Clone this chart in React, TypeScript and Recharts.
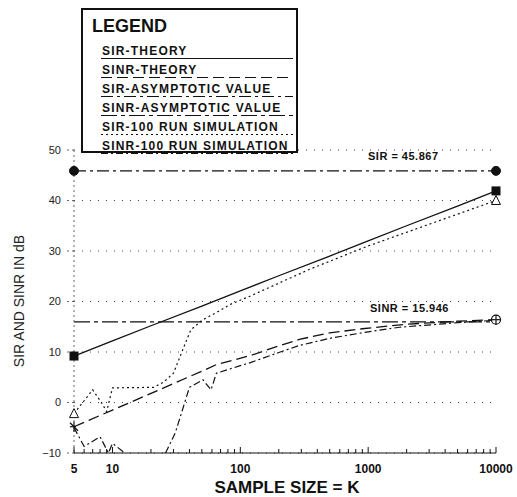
import { CartesianGrid, Line, LineChart, ReferenceDot, ReferenceLine, XAxis, YAxis } from "recharts"

const FONT = "'Liberation Sans', Arial, sans-serif"
const INK = "#111"

// sample sizes and dB values
const sirTheoryK = [5, 10, 20, 50, 100, 200, 500, 1000, 2000, 5000, 10000]
const sirTheoryDb = [9.2, 12.2, 15.2, 19.1, 22.1, 25.1, 29.0, 32.0, 35.0, 38.9, 41.9]

const sinrTheoryK = [5, 10, 20, 50, 65, 120, 200, 290, 500, 900, 2000, 5000, 10000]
const sinrTheoryDb = [-4.8, -1.5, 1.8, 6.2, 7.5, 9.3, 11.2, 12.5, 13.8, 14.6, 15.5, 16.1, 16.4]

const sirSimK = [5, 7, 8.2, 9, 10, 21, 25, 30, 35, 41, 51, 65, 83, 120, 350, 1000, 10000]
const sirSimDb = [-2.2, 2.5, 0, -1.8, 2.9, 3.0, 4.0, 5.8, 10.1, 14.4, 16.4, 17.8, 19.4, 21.1, 26.4, 31.0, 40.0]

const sinrSimK = [5, 6, 8, 9.3, 10, 12.5, 18, 26, 31, 40, 51, 59, 65, 100, 120, 200, 290, 500, 1000, 1760, 5000, 10000]
const sinrSimDb = [-5, -8.7, -6.8, -10, -8.1, -10, null, -10, -6, 3, 4.5, 2.5, 5.8, 7.3, 7.9, 9.9, 11.3, 12.7, 14.0, 14.9, 15.8, 16.3]

const SIR_ASYM = 45.867
const SINR_ASYM = 15.946
const K_MIN = 5
const K_MAX = 10000

const xTicks = [
  5, 6, 7, 8, 9, 10, 20, 30, 40, 50, 60, 70, 80, 90, 100, 200, 300, 400, 500, 600, 700, 800, 900, 1000,
  2000, 3000, 4000, 5000, 6000, 7000, 8000, 9000, 10000,
]
const xLabels = [5, 10, 100, 1000, 10000]
const yTicks = [-10, 0, 10, 20, 30, 40, 50]

const legendNames = [
  "SIR-THEORY",
  "SINR-THEORY",
  "SIR-ASYMPTOTIC VALUE",
  "SINR-ASYMPTOTIC VALUE",
  "SIR-100 RUN SIMULATION",
  "SINR-100 RUN SIMULATION",
]

const DASH = {
  sirTheory: undefined,
  sinrTheory: "11 5",
  sirAsym: "12 4 3 4",
  sinrAsym: "16 4 4 4",
  sirSim: "2 3",
  sinrSim: "7 3 2 3",
}
const legendDash = [DASH.sirTheory, DASH.sinrTheory, DASH.sirAsym, DASH.sinrAsym, DASH.sirSim, DASH.sinrSim]

const zip = (ks: number[], vs: (number | null)[]) => ks.map((k, i) => ({ k, v: vs[i] }))

const endMarker = (kind: string, count: number) => (p: any) => {
  const { cx, cy, index } = p
  const key = `${kind}-${index}`
  if ((index !== 0 && index !== count - 1) || cx == null || cy == null) return <g key={key} />
  if (kind === "square") return <rect key={key} x={cx - 4.5} y={cy - 4.5} width={9} height={9} fill={INK} />
  if (kind === "triangle")
    return (
      <path key={key} d={`M${cx},${cy - 5} L${cx + 4.5},${cy + 4} L${cx - 4.5},${cy + 4} Z`} fill="#fff" stroke={INK} strokeWidth={1} />
    )
  if (kind === "star" && index === 0)
    return (
      <g key={key} stroke={INK} strokeWidth={1.2}>
        <line x1={cx - 4} y1={cy - 4} x2={cx + 4} y2={cy + 4} />
        <line x1={cx} y1={cy - 5} x2={cx} y2={cy + 5} />
        <line x1={cx - 4} y1={cy} x2={cx + 2} y2={cy} />
      </g>
    )
  if (kind === "star")
    return (
      <g key={key} stroke={INK} strokeWidth={1.2}>
        <circle cx={cx} cy={cy} r={4.5} fill="#fff" />
        <line x1={cx - 5} y1={cy} x2={cx + 5} y2={cy} />
        <line x1={cx} y1={cy - 5} x2={cx} y2={cy + 5} />
      </g>
    )
  return <g key={key} />
}

function XTick({ x, y, payload }: any) {
  const major = xLabels.includes(payload.value)
  return (
    <g>
      <line x1={x} x2={x} y1={y} y2={y - (major ? 6 : 4)} stroke={INK} />
      {major && (
        <text x={x} y={y + 20} textAnchor="middle" fontSize={12} fontWeight="bold" fill={INK} fontFamily={FONT}>
          {payload.value}
        </text>
      )}
    </g>
  )
}

export default function App() {
  return (
    <div style={{ position: "absolute", left: 0, top: 0, width: 517, height: 497, background: "#fff", fontFamily: FONT }}>
      <LineChart width={517} height={497} margin={{ top: 150, right: 21, bottom: 14, left: 0 }}>
        <CartesianGrid vertical={false} stroke="#444" strokeDasharray="1 7" />
        <XAxis
          dataKey="k"
          type="number"
          scale="log"
          domain={[K_MIN, K_MAX]}
          ticks={xTicks}
          interval={0}
          height={30}
          tickSize={0}
          tickMargin={0}
          tickLine={false}
          tick={<XTick />}
          stroke={INK}
        />
        <YAxis
          type="number"
          domain={[-10, 50]}
          ticks={yTicks}
          width={74}
          tickSize={7}
          tickMargin={6}
          stroke="#666"
          strokeDasharray="2 3"
          tick={{ fontSize: 11, fill: "#222", fontFamily: FONT }}
          tickFormatter={(v) => (v < 0 ? `\u2212${-v}` : `${v}`)}
        />
        <ReferenceLine y={SIR_ASYM} stroke={INK} strokeWidth={1.2} strokeDasharray={DASH.sirAsym} />
        <ReferenceLine y={SINR_ASYM} stroke={INK} strokeWidth={1.2} strokeDasharray={DASH.sinrAsym} />
        <ReferenceDot x={K_MIN} y={SIR_ASYM} r={4.5} fill={INK} stroke={INK} />
        <ReferenceDot x={K_MAX} y={SIR_ASYM} r={4.5} fill={INK} stroke={INK} />
        <Line
          data={zip(sirTheoryK, sirTheoryDb)}
          dataKey="v"
          stroke={INK}
          strokeWidth={1.3}
          dot={endMarker("square", sirTheoryK.length)}
          isAnimationActive={false}
        />
        <Line
          data={zip(sirSimK, sirSimDb)}
          dataKey="v"
          stroke={INK}
          strokeWidth={1.2}
          strokeDasharray={DASH.sirSim}
          dot={endMarker("triangle", sirSimK.length)}
          isAnimationActive={false}
        />
        <Line
          data={zip(sinrTheoryK, sinrTheoryDb)}
          dataKey="v"
          stroke={INK}
          strokeWidth={1.3}
          strokeDasharray={DASH.sinrTheory}
          dot={endMarker("star", sinrTheoryK.length)}
          isAnimationActive={false}
        />
        <Line
          data={zip(sinrSimK, sinrSimDb)}
          dataKey="v"
          stroke={INK}
          strokeWidth={1.2}
          strokeDasharray={DASH.sinrSim}
          dot={false}
          isAnimationActive={false}
        />
      </LineChart>

      <svg width={517} height={497} style={{ position: "absolute", left: 0, top: 0, pointerEvents: "none" }} fontFamily={FONT}>
        <rect x={82} y={9} width={215} height={143} fill="#fff" stroke={INK} strokeWidth={2} />
        <text x={92} y={32} fontSize={18} fontWeight="bold" fill={INK}>
          LEGEND
        </text>
        {legendNames.map((name, i) => (
          <g key={name}>
            <text x={102} y={55 + i * 19} fontSize={12} fontWeight="bold" fill={INK} letterSpacing={1.2}>
              {name}
            </text>
            <line x1={101} x2={293} y1={58.5 + i * 19} y2={58.5 + i * 19} stroke={INK} strokeWidth={1.2} strokeDasharray={legendDash[i]} />
          </g>
        ))}
        <text x={368} y={160} fontSize={11} fontWeight="bold" fill={INK} letterSpacing={0.5}>
          SIR = 45.867
        </text>
        <text x={370} y={312} fontSize={11} fontWeight="bold" fill={INK} letterSpacing={0.5}>
          SINR = 15.946
        </text>
        <text x={287} y={493} fontSize={17} fontWeight="bold" fill={INK} textAnchor="middle">
          SAMPLE SIZE = K
        </text>
        <text x={24} y={301} fontSize={14} fill="#222" textAnchor="middle" transform="rotate(-90 24 301)">
          SIR AND SINR IN dB
        </text>
      </svg>
    </div>
  )
}
